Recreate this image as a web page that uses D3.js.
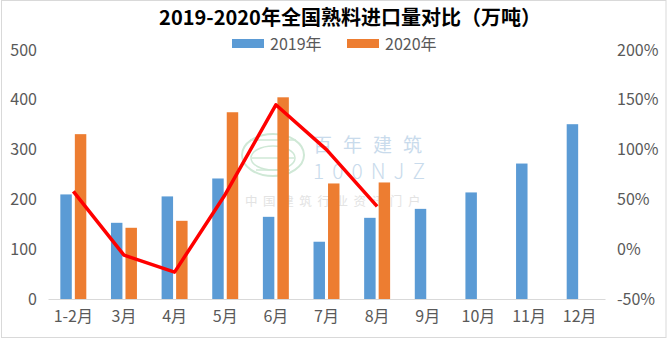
<!DOCTYPE html>
<html>
<head>
<meta charset="utf-8">
<script src="https://cdn.jsdelivr.net/npm/d3@7"></script>
<style>
  html, body { margin: 0; padding: 0; background: #fff; }
  svg { display: block; }
  text { font-family: "Noto Sans CJK SC", "Noto Sans", sans-serif; }
</style>
</head>
<body>
<svg id="chart" width="668" height="339"></svg>
<script>
// Monthly clinker imports (10k tonnes) and year-on-year growth (%)
const months = ["1-2月", "3月", "4月", "5月", "6月", "7月", "8月", "9月", "10月", "11月", "12月"];
const seriesNames = ["2019年", "2020年"];
const values2019 = [210, 153, 206, 242, 165, 115, 163, 181, 214, 272, 351];
const values2020 = [331, 143, 157, 375, 405, 232, 234];
const growth = [58, -6, -23, 55, 145, 100, 43];
const leftTicks = [0, 100, 200, 300, 400, 500];
const rightTicks = [-50, 0, 50, 100, 150, 200];

const colors = { "2019年": "#5B9BD5", "2020年": "#ED7D31" };
const textColor = "#595959";

const svg = d3.select("#chart");
const plot = { left: 48, right: 605, top: 50, bottom: 299 };

// Chart frame
svg.append("rect")
  .attr("x", 1.5).attr("y", 0.5)
  .attr("width", 664.5).attr("height", 337)
  .attr("fill", "#fff").attr("stroke", "#D9D9D9").attr("stroke-width", 1);

// Scales
const x0 = d3.scaleBand().domain(months).range([plot.left, plot.right]).padding(0);
const x1 = d3.scaleBand().domain(seriesNames).range([0, x0.bandwidth()])
  .paddingInner(0.21).paddingOuter(0.85);
const yL = d3.scaleLinear().domain([0, 500]).range([plot.bottom, plot.top]);
const yR = d3.scaleLinear().domain([-50, 200]).range([plot.bottom, plot.top]);

// Site watermark
const wm = svg.append("g").attr("class", "watermark");
wm.append("ellipse").attr("cx", 273).attr("cy", 155).attr("rx", 31).attr("ry", 21)
  .attr("fill", "none").attr("stroke", "#CFE8D6").attr("stroke-width", 2);
wm.append("ellipse").attr("cx", 273).attr("cy", 158).attr("rx", 22).attr("ry", 12)
  .attr("fill", "none").attr("stroke", "#CFE8D6").attr("stroke-width", 1.5);
[[250, 296, 140], [252, 294, 158], [256, 290, 170]].forEach(([a, b, yy]) => {
  wm.append("line").attr("x1", a).attr("x2", b).attr("y1", yy).attr("y2", yy)
    .attr("stroke", "#CFE8D6").attr("stroke-width", 1.5);
});
wm.append("text").attr("x", 313).attr("y", 152).attr("font-size", 19)
  .attr("letter-spacing", 11).attr("fill", "#C9DBEC").text("百年建筑");
wm.append("text").attr("x", 313).attr("y", 179).attr("font-size", 21)
  .attr("font-weight", 300).attr("letter-spacing", 8).attr("fill", "#C9DBEC").text("100NJZ");
wm.append("text").attr("x", 245).attr("y", 206).attr("font-size", 12.5)
  .attr("letter-spacing", 5.6).attr("fill", "#E3E3E3").text("中国建筑行业资讯门户");

// Bars
const rows = months.map((m, i) => ({
  month: m,
  bars: [
    { key: "2019年", value: values2019[i] },
    { key: "2020年", value: values2020[i] }
  ].filter(d => d.value != null)
}));

svg.append("g").selectAll("g").data(rows).join("g")
  .attr("transform", d => `translate(${x0(d.month)},0)`)
  .selectAll("rect").data(d => d.bars).join("rect")
  .attr("x", d => x1(d.key))
  .attr("width", x1.bandwidth())
  .attr("y", d => yL(d.value))
  .attr("height", d => yL(0) - yL(d.value))
  .attr("fill", d => colors[d.key]);

// Bottom axis
const xAxis = svg.append("g").attr("transform", `translate(0,${plot.bottom})`)
  .call(d3.axisBottom(x0).tickSize(0).tickPadding(12));
xAxis.select(".domain").attr("stroke", "#D9D9D9").attr("stroke-width", 1);
xAxis.selectAll("text").attr("font-size", 16).attr("fill", textColor)
  .style("font-family", "'Noto Sans CJK SC', sans-serif");

// Left axis
const yAxisL = svg.append("g").attr("transform", `translate(37,0)`)
  .call(d3.axisLeft(yL).tickValues(leftTicks).tickSize(0).tickPadding(0));
yAxisL.select(".domain").remove();
yAxisL.selectAll("text").attr("font-size", 16).attr("fill", textColor)
  .style("font-family", "'Noto Sans CJK SC', sans-serif");

// Right axis
const yAxisR = svg.append("g").attr("transform", `translate(617,0)`)
  .call(d3.axisRight(yR).tickValues(rightTicks).tickSize(0).tickPadding(0)
    .tickFormat(d => d + "%"));
yAxisR.select(".domain").remove();
yAxisR.selectAll("text").attr("font-size", 16).attr("fill", textColor)
  .style("font-family", "'Noto Sans CJK SC', sans-serif");

// Growth line
const line = d3.line()
  .x((d, i) => x0(months[i]) + x0.bandwidth() / 2)
  .y(d => yR(d));
svg.append("path").datum(growth)
  .attr("d", line)
  .attr("fill", "none")
  .attr("stroke", "#FF0000")
  .attr("stroke-width", 3.5)
  .attr("stroke-linejoin", "round");

// Title
svg.append("text")
  .attr("x", 350).attr("y", 25)
  .attr("text-anchor", "middle")
  .attr("font-size", 20).attr("font-weight", "bold").attr("fill", "#000")
  .text("2019-2020年全国熟料进口量对比（万吨）");

// Legend
const legendItems = [{ key: "2019年", x: 232 }, { key: "2020年", x: 347 }];
const lg = svg.append("g").selectAll("g").data(legendItems).join("g")
  .attr("transform", d => `translate(${d.x},39)`);
lg.append("rect").attr("width", 32).attr("height", 9).attr("fill", d => colors[d.key]);
lg.append("text").attr("x", 38).attr("y", 10.5)
  .attr("font-size", 16).attr("fill", textColor).text(d => d.key);
</script>
</body>
</html>
